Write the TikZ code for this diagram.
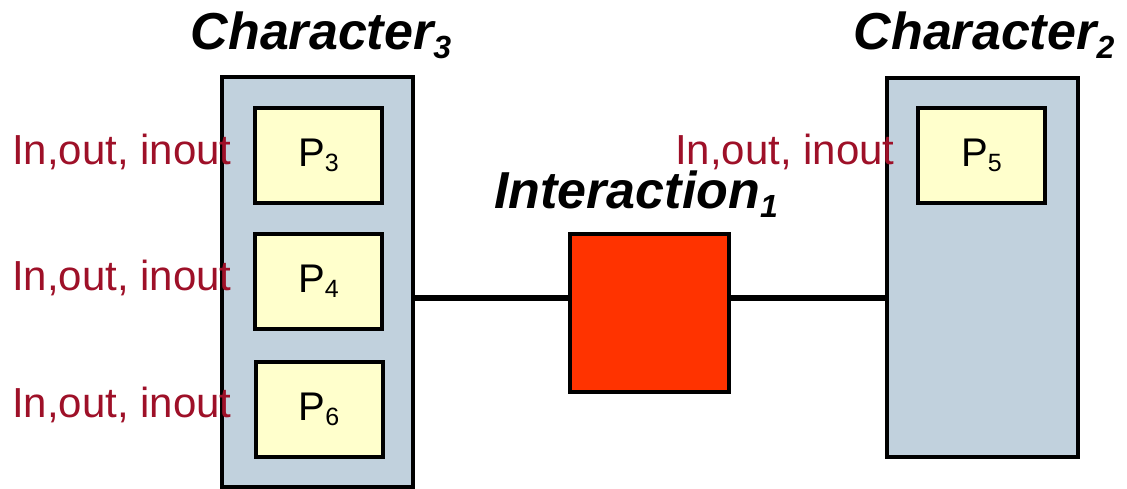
\documentclass[tikz,border=0pt]{standalone}
\usepackage{fontspec}
\setmainfont{Liberation Sans}
\definecolor{charfill}{RGB}{193,209,221}
\definecolor{portfill}{RGB}{255,255,204}
\definecolor{interfill}{RGB}{255,51,0}
\definecolor{dirred}{RGB}{158,16,40}
\tikzset{
  charbox/.style={draw=black, line width=4pt, fill=charfill, inner sep=0pt},
  portbox/.style={draw=black, line width=4pt, fill=portfill, inner sep=0pt,
    minimum width=127pt, minimum height=95pt,
    font=\fontsize{40}{40}\selectfont},
  interbox/.style={draw=black, line width=4pt, fill=interfill, inner sep=0pt,
    minimum width=159pt, minimum height=158pt},
  title/.style={anchor=base, inner sep=0pt,
    font=\fontsize{52}{52}\selectfont\bfseries\itshape},
  dirlabel/.style={anchor=base west, inner sep=0pt, text=dirred,
    font=\fontsize{42}{42}\selectfont},
  wire/.style={draw=black, line width=6.5pt},
}
\newcommand\psub[1]{\raisebox{-5pt}{\fontsize{25}{25}\selectfont #1}}
\newcommand\tsub[1]{\raisebox{-9pt}{\fontsize{32}{32}\selectfont #1}}
\begin{document}
\begin{tikzpicture}[x=1pt, y=-1pt]
  \useasboundingbox (0,0) rectangle (1127,489);

  % character blocks
  \node[charbox, minimum width=191pt, minimum height=410pt] (c3) at (317.5,282) {};
  \node[charbox, minimum width=191pt, minimum height=379pt] (c2) at (982.5,267.5) {};

  % ports
  \node[portbox] (p3) at (318.5,155.5) {P\psub{3}};
  \node[portbox] (p4) at (318.5,281.5) {P\psub{4}};
  \node[portbox] (p6) at (319,409.5) {P\psub{6}};
  \node[portbox] (p5) at (981.5,155.5) {P\psub{5}};

  % interaction
  \node[interbox] (inter) at (649.5,313) {};
  \coordinate (iw) at ([yshift=15pt]inter.west);
  \coordinate (ie) at ([yshift=15pt]inter.east);
  \draw[wire] (c3.east |- iw) -- (iw);
  \draw[wire] (ie) -- (c2.west |- ie);

  % titles
  \node[title] (t3) at (321,50) {Character\tsub{3}};
  \node[title] (t2) at (984,50) {Character\tsub{2}};
  \node[title] (ti) at (636,209) {Interaction\tsub{1}};

  % port directions
  \node[dirlabel] (d3) at (12,165) {In,out, inout};
  \node[dirlabel] (d4) at (12,290) {In,out, inout};
  \node[dirlabel] (d6) at (12,417) {In,out, inout};
  \node[dirlabel] (d5) at (675,165) {In,out, inout};
\end{tikzpicture}
\end{document}
